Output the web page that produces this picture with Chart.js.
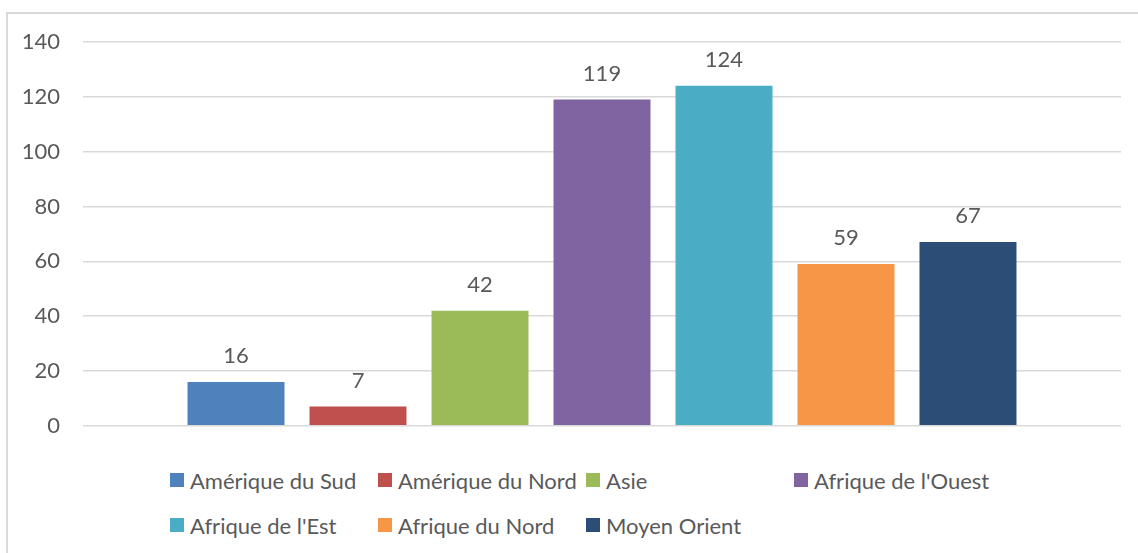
<!DOCTYPE html>
<html>
<head>
<meta charset="utf-8">
<script src="https://cdn.jsdelivr.net/npm/chart.js@4/dist/chart.umd.min.js"></script>
<style>
body{margin:0;background:#fff;font-family:Lato,"Liberation Sans",sans-serif;}
#frame{position:absolute;left:6px;top:12px;width:1140px;height:560px;border-left:2px solid #d9d9d9;border-top:2px solid #d9d9d9;}
#chart{position:absolute;left:0;top:0;}
#legend{position:absolute;left:170px;top:465px;display:grid;grid-template-columns:repeat(4,208px);grid-auto-rows:45px;color:#595959;font-size:22px;}
.item{display:flex;align-items:center;height:30px;white-space:nowrap;}
.box{width:14px;height:14px;margin-right:6px;flex:none;}
</style>
</head>
<body>
<div id="frame"></div>
<canvas id="chart" width="1138" height="462"></canvas>
<div id="legend"></div>
<script>
const regions = ["Amérique du Sud","Amérique du Nord","Asie","Afrique de l'Ouest","Afrique de l'Est","Afrique du Nord","Moyen Orient"];
const values = [16,7,42,119,124,59,67];
const colors = ["#4f81bd","#c0504d","#9bbb59","#8064a2","#4bacc6","#f79646","#2c4d75"];
const yTicks = [0,20,40,60,80,100,120,140];

const textColor = "#595959";
const fontFamily = "Lato, 'Liberation Sans', sans-serif";

// value labels above each bar
const barLabels = {
id:"barLabels",
afterDatasetsDraw(chart){
const ctx = chart.ctx;
ctx.save();
ctx.fillStyle = textColor;
ctx.font = "22px " + fontFamily;
ctx.textAlign = "center";
ctx.textBaseline = "alphabetic";
chart.data.datasets.forEach((ds,i)=>{
const bar = chart.getDatasetMeta(i).data[0];
ctx.fillText(ds.data[0], bar.x, bar.y - 19);
});
ctx.restore();
}
};

const chart = new Chart(document.getElementById("chart"),{
type:"bar",
data:{
labels:[""],
datasets: regions.map((r,i)=>({
label:r,
data:[values[i]],
backgroundColor:colors[i],
categoryPercentage:0.8227,
barPercentage:0.795
}))
},
options:{
responsive:false,
animation:false,
// bottom space comes from the y tick padding (label half height + padding)
layout:{padding:{top:42,right:17,bottom:0,left:0}},
plugins:{legend:{display:false},tooltip:{enabled:false}},
scales:{
x:{display:false},
y:{
min:0,max:140,
afterFit(scale){ scale.width = 83; },
afterBuildTicks(scale){ scale.ticks = yTicks.map(v=>({value:v})); },
border:{display:false},
grid:{color:"#d9d9d9",lineWidth:1.5,drawTicks:false},
ticks:{color:textColor,padding:23,font:{family:fontFamily,size:22}}
}
}
},
plugins:[barLabels]
});

// legend laid out in a grid like the original
const legend = document.getElementById("legend");
chart.data.datasets.forEach(ds=>{
const item = document.createElement("div");
item.className = "item";
const box = document.createElement("span");
box.className = "box";
box.style.background = ds.backgroundColor;
const txt = document.createElement("span");
txt.textContent = ds.label;
item.appendChild(box);
item.appendChild(txt);
legend.appendChild(item);
});
</script>
</body>
</html>
